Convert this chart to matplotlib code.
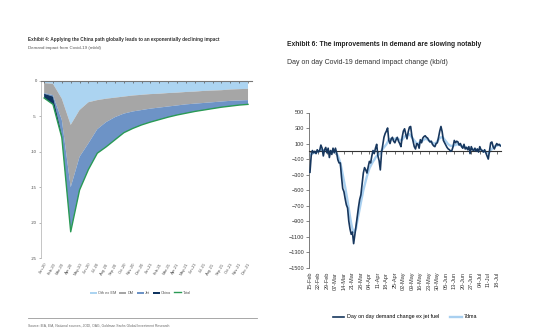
import matplotlib
matplotlib.use("Agg")
import matplotlib.pyplot as plt
import pandas as pd

FONT = ["Liberation Sans Narrow", "Liberation Sans", "DejaVu Sans"]
plt.rcParams["font.family"] = FONT

# ---- Exhibit 4: stacked demand impact (mb/d), monthly categories
months = ["Jan-20", "Feb-20", "Mar-20", "Apr-20", "May-20", "Jun-20", "Jul-20", "Aug-20",
          "Sep-20", "Oct-20", "Nov-20", "Dec-20", "Jan-21", "Feb-21", "Mar-21", "Apr-21",
          "May-21", "Jun-21", "Jul-21", "Aug-21", "Sep-21", "Oct-21", "Nov-21", "Dec-21"]
oth_ex_em = [-0.3, -0.4, -2.5, -6.2, -4.1, -3.0, -2.7, -2.5, -2.35, -2.2, -2.05, -1.95,
             -1.85, -1.8, -1.7, -1.65, -1.55, -1.5, -1.4, -1.35, -1.3, -1.2, -1.15, -1.1]
dm = [-1.4, -1.6, -3.0, -8.8, -6.6, -5.8, -4.1, -3.3, -2.75, -2.4, -2.25, -2.15,
      -2.05, -1.95, -1.9, -1.8, -1.75, -1.7, -1.7, -1.65, -1.6, -1.6, -1.6, -1.6]
jet = [-0.1, -0.2, -2.1, -6.3, -4.7, -3.7, -3.4, -3.5, -3.2, -2.7, -2.4, -2.1,
       -1.9, -1.7, -1.5, -1.35, -1.25, -1.1, -1.0, -0.9, -0.8, -0.75, -0.65, -0.6]
china = [-0.6, -1.1, -0.4, 0, 0, 0, 0, 0, 0, 0, 0, 0,
         0, 0, 0, 0, 0, 0, 0, 0, 0, 0, 0, 0]
total = [-2.4, -3.3, -8.0, -21.3, -15.4, -12.5, -10.2, -9.3, -8.3, -7.3, -6.7, -6.2,
         -5.8, -5.45, -5.1, -4.8, -4.55, -4.3, -4.1, -3.9, -3.7, -3.55, -3.4, -3.3]

# ---- Exhibit 6: day on day change (kb/d), daily from 15-Feb-2020
dod = [-270, -60, 10, -20, 0, -30, 20, -10, 10, 80, 40, -60, 20, 50, -20, 40, -80, 10,
       -40, 40, -20, 40, -20, -110, -150, -150, -330, -480, -520, -610, -690, -730, -900,
       -1000, -1070, -1040, -1190, -1080, -960, -840, -720, -620, -560, -420, -280, -210,
       -240, -280, -200, -130, -150, -60, 10, -30, 40, 90, -60, -120, -240, -20, 80, 180,
       230, 260, 300, 140, 100, 160, 180, 130, 110, 150, 180, 130, 100, 60, 180, 260, 290,
       220, 160, 250, 310, 320, 200, 130, 60, 30, 100, 90, 40, 150, 110, 170, 190, 200,
       180, 170, 140, 120, 130, 90, 70, 60, 100, 110, 180, 260, 320, 250, 140, 110, 80,
       50, 30, 20, 0, 10, 60, 140, 110, 130, 120, 80, 100, 60, 40, 90, 30, 50, 20, 60,
       -30, 60, 20, 10, 40, 0, 30, -10, 60, 20, 10, -10, 20, -20, -60, -100, 10, 110, 120,
       60, 30, 70, 100, 80, 90, 70]
ma7 = [-40, -30, -30, -20, -20, -10, -10, 0, 10, 10, 20, 10, 10, 0, 10, 0, -10, 0, -10,
       0, 0, -10, -30, -60, -100, -150, -220, -300, -380, -460, -550, -640, -740, -840,
       -930, -1000, -1040, -1030, -990, -900, -820, -740, -660, -580, -500, -440, -380,
       -320, -270, -220, -190, -160, -130, -110, -80, -60, -50, -40, -20, 10, 30, 50, 70,
       90, 120, 150, 160, 160, 150, 150, 160, 170, 160, 150, 150, 140, 150, 170, 190, 200,
       210, 220, 220, 200, 180, 160, 140, 120, 100, 100, 110, 120, 130, 140, 150, 160, 160,
       150, 140, 130, 120, 110, 100, 100, 110, 130, 150, 170, 180, 180, 170, 150, 130, 110,
       90, 80, 70, 70, 70, 80, 80, 90, 90, 90, 80, 70, 60, 60, 50, 50, 40, 40, 30, 30, 30,
       20, 20, 20, 20, 10, 10, 10, 10, 0, 0, -10, -10, -20, -10, 10, 30, 50, 60, 70, 70,
       80, 80, 80]
START = "2020-02-15"

fig = plt.figure(figsize=(5.48, 3.36), dpi=100)
W, H = 548, 336


def box(x0, y0, x1, y1):
    return [x0 / W, 1 - y1 / H, (x1 - x0) / W, (y1 - y0) / H]


# ================= left panel =================
ax = fig.add_axes(box(41, 81, 252, 258))
x = list(range(len(months)))
cols = ["#acd4f1", "#a6a6a6", "#6d93c6", "#0f3460"]
ax.stackplot(x, oth_ex_em, dm, jet, china, colors=cols, lw=0,
             labels=["Oth ex EM", "DM", "Jet", "China"])
ax.plot(x, total, color="#2a9a55", lw=1.0, label="Total")
ax.set_xlim(-0.35, 23.45)
ax.set_ylim(-25, 0)
ax.set_yticks([0, -5, -10, -15, -20, -25])
ax.set_yticklabels(["0", "-5", "-10", "-15", "-20", "-25"])
ax.set_xticks(x)
ax.set_xticklabels(months, rotation=60, ha="right", rotation_mode="anchor")
ax.tick_params(axis="x", bottom=False, top=True, direction="in", length=1.5,
               width=0.5, color="#555555", labelsize=3, pad=3, labelcolor="#555555")
ax.tick_params(axis="y", length=1.5, width=0.5, color="#999999", labelsize=3,
               pad=1.5, labelcolor="#444444")
for s in ["bottom", "right"]:
    ax.spines[s].set_visible(False)
ax.spines["top"].set_color("#777777")
ax.spines["top"].set_linewidth(0.8)
ax.spines["left"].set_color("#bbbbbb")
ax.spines["left"].set_linewidth(0.6)
ax.patch.set_alpha(0)

leg = ax.legend(loc="upper center", bbox_to_anchor=(0.47, -0.165), ncol=5, frameon=False,
                fontsize=2.8, handlelength=1.8, handletextpad=0.3, columnspacing=0.8)
for h in leg.legend_handles[:4]:
    h.set_height(1.2)
for t in leg.get_texts():
    t.set_color("#555555")

fig.text(28 / W, 1 - 40 / H,
         "Exhibit 4: Applying the China path globally leads to an exponentially declining impact",
         fontsize=3.35, fontweight="bold", color="#333333", va="center")
fig.text(28 / W, 1 - 48 / H, "Demand impact from Covid-19 (mb/d)",
         fontsize=3.2, color="#555555", va="center")
fig.add_artist(plt.Line2D([28 / W, 257 / W], [1 - 318 / H, 1 - 318 / H],
                          color="#999999", lw=0.6))
fig.text(28 / W, 1 - 326 / H,
         "Source: IEA, EIA, National sources, JODI, OAG, Goldman Sachs Global Investment Research",
         fontsize=2.4, color="#666666", va="center")

# ================= right panel =================
dates = pd.date_range(START, periods=len(dod), freq="D")
ax2 = fig.add_axes(box(309, 112.5, 501, 267.7))
ax2.plot(dates, ma7, color="#a9d0f0", lw=1.7, label="7dma", zorder=2)
ax2.plot(dates, dod, color="#17375e", lw=1.2, label="Day on day demand change ex jet fuel",
         zorder=3)
ax2.set_ylim(-1500, 500)
ax2.set_yticks(range(-1500, 501, 200))
ax2.set_xlim(dates[0] - pd.Timedelta(days=0.8), dates[-1] + pd.Timedelta(days=0.5))
weeks = pd.date_range(START, dates[-1], freq="7D")
ax2.set_xticks(weeks)
ax2.spines["bottom"].set_position(("data", 0))
ax2.spines["bottom"].set_color("#333333")
ax2.spines["bottom"].set_linewidth(0.8)
ax2.tick_params(axis="x", labelbottom=False, direction="out", length=2, width=0.5,
                color="#333333")
ax2.tick_params(axis="y", labelsize=4.0, length=2, width=0.5, pad=1.5,
                color="#555555", labelcolor="#333333")
for s in ["top", "right"]:
    ax2.spines[s].set_visible(False)
ax2.spines["left"].set_color("#666666")
ax2.spines["left"].set_linewidth(0.6)
ax2.patch.set_alpha(0)

sec = ax2.secondary_xaxis("bottom")
sec.set_xticks(weeks)
sec.set_xticklabels([d.strftime("%d-%b") for d in weeks], rotation=90, fontsize=4.0,
                    color="#333333")
sec.tick_params(length=0, pad=3)
sec.spines["bottom"].set_visible(False)

h, l = ax2.get_legend_handles_labels()
ax2.legend(h[::-1], l[::-1], loc="upper center", bbox_to_anchor=(0.5, -0.27), ncol=2,
           frameon=False, fontsize=3.9, handlelength=2.2, handletextpad=0.4,
           columnspacing=2.0)

fig.text(287 / W, 1 - 45 / H, "Exhibit 6: The improvements in demand are slowing notably",
         fontsize=4.9, fontweight="bold", color="#222222", va="center")
fig.text(287 / W, 1 - 62 / H, "Day on day Covid-19 demand impact change (kb/d)",
         fontsize=5.0, color="#333333", va="center")

fig.savefig("out.png", dpi=100)
